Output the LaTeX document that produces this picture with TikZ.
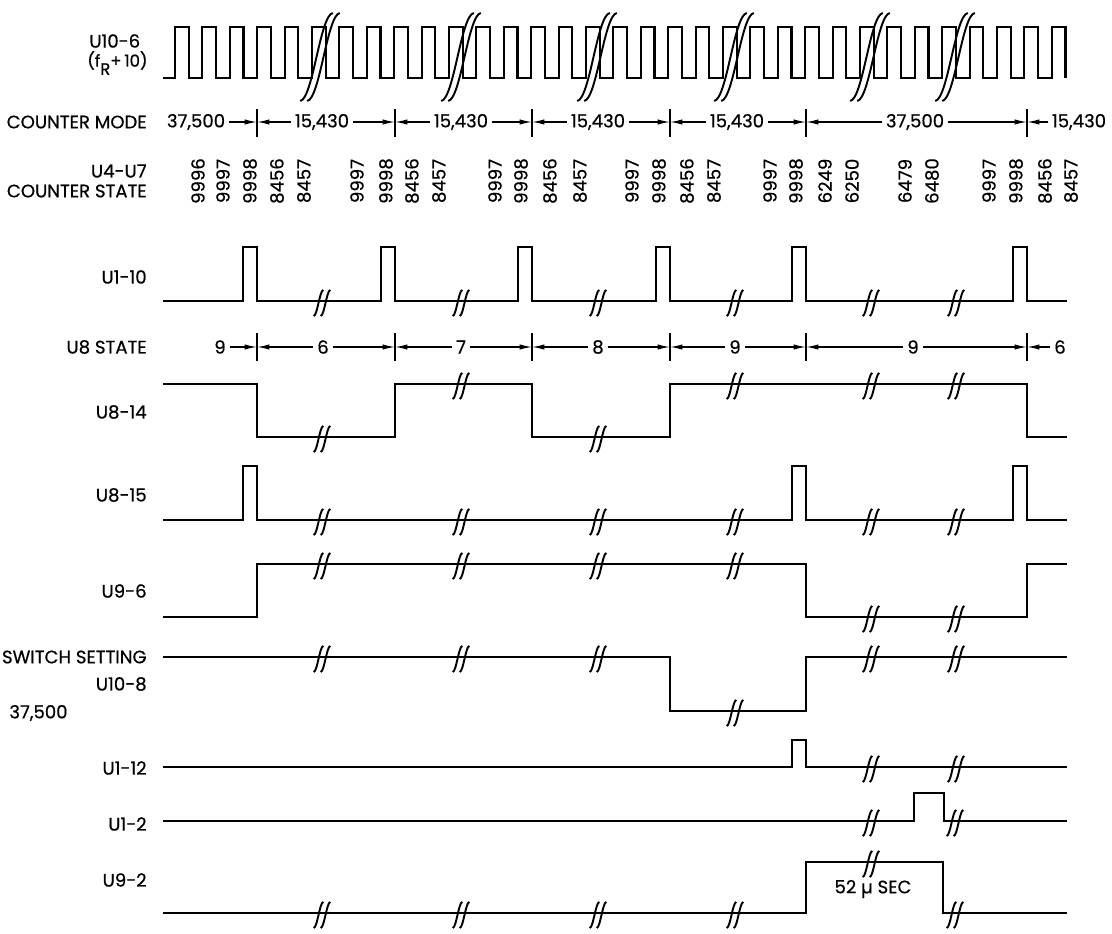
\documentclass[tikz,border=0pt]{standalone}
\usepackage{fontspec}
\setmainfont{Poppins}[FakeBold=0.6]
\usetikzlibrary{arrows.meta}

% double slash break mark: x, y, half height
\newcommand{\sigbreak}[3]{%
  \foreach \o in {-3.5,3.5}{
    \draw[brk] ({#1+\o-0.37*#3},{#2+#3}) .. controls ({#1+\o-0.08*#3},{#2+0.95*#3}) and ({#1+\o+0.08*#3},{#2-0.95*#3}) .. ({#1+\o+0.37*#3},{#2-#3});
  }}

\begin{document}
\begin{tikzpicture}[x=0.02cm,y=-0.02cm,font=\fontsize{10.3}{12}\selectfont]
\tikzstyle{sig}=[line width=1.2pt,line join=miter]
\tikzstyle{brk}=[line width=1.1pt]
\tikzstyle{tick}=[line width=0.8pt]
\tikzstyle{dim}=[line width=0.7pt,-{Latex[length=7pt,width=3pt]}]
\tikzstyle{lbl}=[anchor=east,inner sep=0pt]
\tikzstyle{val}=[inner sep=2pt]
\tikzstyle{cnt}=[rotate=90,inner sep=0pt,font=\fontsize{10.3}{12}\selectfont]

\useasboundingbox (0,0) rectangle (1112,933);

% signal names
\node[anchor=west,inner sep=0pt] (u106) at (89,41) {U10-6};
\node[anchor=west,inner sep=0pt,font=\fontsize{9.4}{11}\selectfont] (fr) at (87,63) {(f\raisebox{-.9ex}{R}+\,10)};
\node[lbl] (cmode) at (147,122) {COUNTER MODE};
\node[lbl] (u4u7) at (147,171) {U4-U7};
\node[lbl] (cstate) at (147,191) {COUNTER STATE};
\node[lbl] (u110) at (147,277) {U1-10};
\node[lbl] (u8st) at (147,347) {U8 STATE};
\node[lbl] (u814) at (147,412) {U8-14};
\node[lbl] (u815) at (147,495) {U8-15};
\node[lbl] (u96) at (147,591) {U9-6};
\node[lbl] (sw) at (147,657) {SWITCH SETTING};
\node[lbl] (u108) at (147,684) {U10-8};
\node[anchor=west,inner sep=0pt] (swval) at (9,713) {37,500};
\node[lbl] (u112) at (147,768) {U1-12};
\node[lbl] (u12) at (147,824) {U1-2};
\node[lbl] (u92) at (147,880) {U9-2};

% clock
\draw[sig] (163,78) \foreach \k in {0,...,32}{ -- ({175+27.4*\k},78) -- ({175+27.4*\k},27) -- ({188.7+27.4*\k},27) -- ({188.7+27.4*\k},78) };
\foreach \b in {320,461,597,734,870,955} \sigbreak{\b}{57}{44};

% counter states
\foreach \x/\v in {198/9996,223/9997,250/9998,277/8456,304/8457,357/9997,386/9998,412/8456,439/8457,
                   495/9997,521/9998,550/8456,580/8457,632/9997,659/9998,687/8456,714/8457,
                   770/9997,796/9998,825/6249,852/6250,905/6479,932/6480,989/9997,1016/9998,1045/8456,1071/8457}
  \node[cnt] (cs\x) at (\x,181) {\v};

% mode and state boundaries
\foreach \n/\x in {1/257,2/395,3/532,4/670,5/806,6/1027}{
  \coordinate (m\n) at (\x,122);
  \coordinate (s\n) at (\x,347);
  \draw[tick] (\x,109) -- (\x,137);
  \draw[tick] (\x,333) -- (\x,361);
}
\node[val] (cm1) at (196,122) {37,500};
\node[val] (cm2) at (322,122) {15,430};
\node[val] (cm3) at (461,122) {15,430};
\node[val] (cm4) at (598,122) {15,430};
\node[val] (cm5) at (737,122) {15,430};
\node[val] (cm6) at (915,122) {37,500};
\node[val] (cm7) at (1079,122) {15,430};
\foreach \a/\b in {cm1/m1,cm2/m2,cm3/m3,cm4/m4,cm5/m5,cm6/m6} \draw[dim] (\a.east) -- (\b);
\foreach \a/\b in {cm2/m1,cm3/m2,cm4/m3,cm5/m4,cm6/m5,cm7/m6} \draw[dim] (\a.west) -- (\b);

\node[val] (st1) at (220,347) {9};
\node[val] (st2) at (323,347) {6};
\node[val] (st3) at (461,347) {7};
\node[val] (st4) at (598,347) {8};
\node[val] (st5) at (735,347) {9};
\node[val] (st6) at (913,347) {9};
\node[val] (st7) at (1060,347) {6};
\foreach \a/\b in {st1/s1,st2/s2,st3/s3,st4/s4,st5/s5,st6/s6} \draw[dim] (\a.east) -- (\b);
\foreach \a/\b in {st2/s1,st3/s2,st4/s3,st5/s4,st6/s5,st7/s6} \draw[dim] (\a.west) -- (\b);

% U1-10
\draw[sig] (163,301) \foreach \x in {257,395,532,670,806,1027}{ -- ({\x-14},301) -- ({\x-14},247) -- (\x,247) -- (\x,301) } -- (1067,301);
\foreach \b in {322,461,598,735,871,956} \sigbreak{\b}{303}{13};

% U8-14
\draw[sig] (163,384) -| (257,437) -| (395,384) -| (532,437) -| (670,384) -| (1027,437) -- (1067,437);
\foreach \b/\y in {322/437,461/384,598/437,735/384,871/384,956/384} \sigbreak{\b}{\y+2}{13};

% U8-15
\draw[sig] (163,520) \foreach \x in {257,806,1027}{ -- ({\x-14},520) -- ({\x-14},466) -- (\x,466) -- (\x,520) } -- (1067,520);
\foreach \b in {322,461,598,735,871,956} \sigbreak{\b}{522}{13};

% U9-6
\draw[sig] (163,617) -| (257,564) -| (806,617) -| (1027,564) -- (1067,564);
\foreach \b/\y in {322/564,461/564,598/564,735/564,871/617,956/617} \sigbreak{\b}{\y+2}{13};

% U10-8
\draw[sig] (163,657) -| (670,711) -| (806,657) -- (1067,657);
\foreach \b/\y in {322/657,461/657,598/657,735/711,871/657,956/657} \sigbreak{\b}{\y+2}{13};

% U1-12
\draw[sig] (163,767) -- (792,767) -- (792,740) -- (806,740) -- (806,767) -- (1067,767);
\foreach \b in {871,956} \sigbreak{\b}{769}{13};

% U1-2
\draw[sig] (163,821) -- (914,821) -- (914,793) -- (944,793) -- (944,821) -- (1067,821);
\foreach \b in {871,955} \sigbreak{\b}{823}{13};

% U9-2
\draw[sig] (163,913) -| (806,862) -| (943,913) -- (1067,913);
\foreach \b/\y in {322/913,461/913,598/913,735/913,871/862,955/913} \sigbreak{\b}{\y+2}{13};
\node (width) at (873,889) {52 µ SEC};
\end{tikzpicture}
\end{document}
